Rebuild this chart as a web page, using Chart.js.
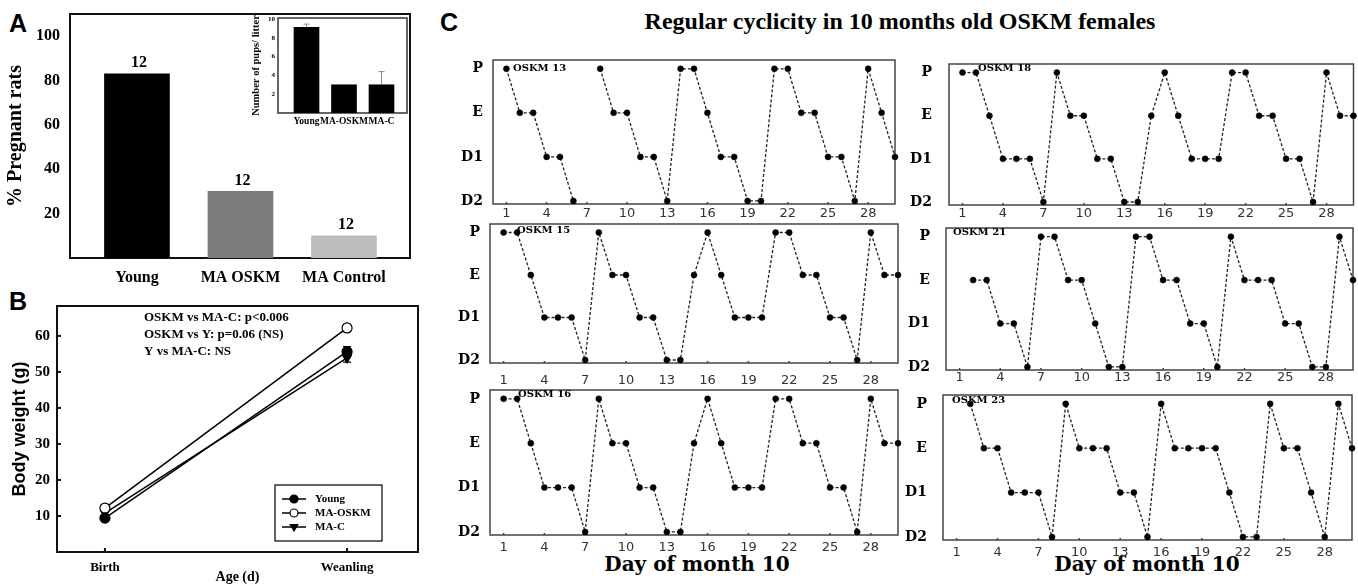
<!DOCTYPE html>
<html><head><meta charset="utf-8">
<script src="https://cdn.jsdelivr.net/npm/chart.js@4.4.1/dist/chart.umd.min.js"></script>
<style>
html,body{margin:0;padding:0;background:#fff;}
body{width:1358px;height:586px;position:relative;overflow:hidden;}
canvas.cv{position:absolute;}
.txt{position:absolute;white-space:nowrap;font-weight:bold;color:#000;line-height:1;}
.letter{font-family:'Liberation Sans',Arial,sans-serif;font-size:25px;}
.serif{font-family:'Liberation Serif','Times New Roman',serif;}
.dserif{font-family:'DejaVu Serif',serif;}
</style></head><body>
<div class="txt letter" style="left:9px;top:11px">A</div>
<div class="txt letter" style="left:9px;top:289px">B</div>
<div class="txt letter" style="left:440px;top:10px">C</div>
<div class="txt serif" style="left:900px;top:9px;font-size:24px;transform:translateX(-50%)">Regular cyclicity in 10 months old OSKM females</div>
<div class="txt dserif" style="left:697px;top:554px;font-size:20px;transform:translateX(-50%)">Day of month 10</div>
<div class="txt dserif" style="left:1147px;top:554px;font-size:20px;transform:translateX(-50%)">Day of month 10</div>
<script>
// ---------------- DATA ----------------
// Panel A
const groupsA = ['Young', 'MA OSKM', 'MA Control'];
const pregnantPct = [83, 30, 10];
const nLabelsA = ['12', '12', '12'];
const yTicksA = [20, 40, 60, 80, 100];
// Panel A inset
const insetGroups = ['Young', 'MA-OSKM', 'MA-C'];
const pupsPerLitter = [9.1, 3, 3];
const pupsErr = [0.35, 0, 1.4];
const yTicksInset = [2, 4, 6, 8, 10];
// Panel B
const ageGroups = ['Birth', 'Weanling'];
const bwYoung = [9.4, 55.6];
const bwYoungErr = [0.5, 1.4];
const bwOSKM = [12.2, 62.2];
const bwOSKMErr = [0.4, 1.0];
const bwMAC = [10.8, 53.9];
const bwMACErr = [0.4, 1.2];
const yTicksB = [10, 20, 30, 40, 50, 60];
const statsB = ['OSKM vs MA-C: p<0.006', 'OSKM vs Y: p=0.06 (NS)', 'Y vs MA-C: NS'];
// Panel C
const stages = ['D2', 'D1', 'E', 'P'];
const days = [1,2,3,4,5,6,7,8,9,10,11,12,13,14,15,16,17,18,19,20,21,22,23,24,25,26,27,28,29,30];
const dayTicks = [1, 4, 7, 10, 13, 16, 19, 22, 25, 28];
const oskm13 = ['P','E','E','D1','D1','D2',null,'P','E','E','D1','D1','D2','P','P','E','D1','D1','D2','D2','P','P','E','E','D1','D1','D2','P','E','D1'];
const oskm18 = ['P','P','E','D1','D1','D1','D2','P','E','E','D1','D1','D2','D2','E','P','E','D1','D1','D1','P','P','E','E','D1','D1','D2','P','E','E'];
const oskm15 = ['P','P','E','D1','D1','D1','D2','P','E','E','D1','D1','D2','D2','E','P','E','D1','D1','D1','P','P','E','E','D1','D1','D2','P','E','E'];
const oskm21 = [null,'E','E','D1','D1','D2','P','P','E','E','D1','D2','D2','P','P','E','E','D1','D1','D2','P','E','E','E','D1','D1','D2','D2','P','E'];
const oskm16 = ['P','P','E','D1','D1','D1','D2','P','E','E','D1','D1','D2','D2','E','P','E','D1','D1','D1','P','P','E','E','D1','D1','D2','P','E','E'];
const oskm23 = [null,'P','E','E','D1','D1','D1','D2','P','E','E','E','D1','D1','D2','P','E','E','E','E','D1','D2','D2','P','E','E','D1','D2','P','E'];

// ---------------- HELPERS ----------------
const SERIF = "'Liberation Serif','Times New Roman',serif";
const DSERIF = "'DejaVu Serif',serif";
const SANS = "'Liberation Sans',Arial,sans-serif";
const DSANS = "'DejaVu Sans',sans-serif";

function addChart(box, pad, config) {
  const w = box.r - box.l + pad.l + pad.r;
  const h = box.b - box.t + pad.t + pad.b;
  const c = document.createElement('canvas');
  c.className = 'cv';
  c.width = w; c.height = h;
  c.style.left = (box.l - pad.l) + 'px';
  c.style.top = (box.t - pad.t) + 'px';
  c.style.width = w + 'px'; c.style.height = h + 'px';
  document.body.appendChild(c);
  const o = config.options;
  o.responsive = false; o.animation = false; o.devicePixelRatio = 1;
  o.layout = {padding: {left: 0, top: pad.t, right: pad.r, bottom: 0}};
  o.scales.x.afterFit = s => { s.height = pad.b; s.paddingLeft = 0; s.paddingRight = 0; };
  o.scales.y.afterFit = s => { s.width = pad.l; s.paddingTop = 0; s.paddingBottom = 0; };
  o.plugins = Object.assign({legend: {display: false}, tooltip: {enabled: false}}, o.plugins || {});
  return new Chart(c, config);
}
function fixedTicks(arr) { return s => { s.ticks = arr.map(v => ({value: v})); }; }

const boxPlugin = {
  id: 'box',
  beforeDatasetsDraw(chart, a, o) {
    const {left, top, right, bottom} = chart.chartArea, ctx = chart.ctx;
    ctx.save();
    if (o.fill) { ctx.fillStyle = o.fill; ctx.fillRect(left, top, right - left, bottom - top); }
    ctx.strokeStyle = o.color || '#000'; ctx.lineWidth = o.width || 1.5;
    ctx.strokeRect(left, top, right - left, bottom - top);
    if (o.xticks) {
      o.xticks.forEach(v => { const x = chart.scales.x.getPixelForValue(v);
        ctx.beginPath(); ctx.moveTo(x, bottom); ctx.lineTo(x, bottom - (o.tickLen || 3)); ctx.stroke(); });
    }
    if (o.yticks) {
      o.yticks.forEach(v => { const y = chart.scales.y.getPixelForValue(v);
        ctx.beginPath(); ctx.moveTo(left, y); ctx.lineTo(left + (o.tickLen || 3), y); ctx.stroke(); });
    }
    ctx.restore();
  }
};
const errPlugin = {
  id: 'errbars',
  beforeDatasetsDraw(chart, a, o) {
    if (!o.sets) return;
    const ctx = chart.ctx, ys = chart.scales.y;
    o.sets.forEach(set => {
      const meta = chart.getDatasetMeta(set.ds);
      const data = chart.data.datasets[set.ds].data;
      meta.data.forEach((el, i) => {
        const e = set.err[i]; if (!e) return;
        const v = data[i].y;
        const top = ys.getPixelForValue(v + e), bot = ys.getPixelForValue(o.upOnly ? v : v - e);
        ctx.save(); ctx.strokeStyle = o.color || '#000'; ctx.lineWidth = o.width || 1.2;
        const cw = o.cap || 4;
        ctx.beginPath(); ctx.moveTo(el.x, top); ctx.lineTo(el.x, bot);
        ctx.moveTo(el.x - cw, top); ctx.lineTo(el.x + cw, top);
        if (!o.upOnly) { ctx.moveTo(el.x - cw, bot); ctx.lineTo(el.x + cw, bot); }
        ctx.stroke(); ctx.restore();
      });
    });
  }
};
const valueLabelPlugin = {
  id: 'vlabels',
  afterDatasetsDraw(chart, a, o) {
    const ctx = chart.ctx, meta = chart.getDatasetMeta(0);
    ctx.save(); ctx.font = o.font; ctx.fillStyle = '#000'; ctx.textAlign = 'center'; ctx.textBaseline = 'bottom';
    meta.data.forEach((el, i) => ctx.fillText(o.labels[i], el.x + 2, el.y - 3));
    ctx.restore();
  }
};
const textPlugin = {
  id: 'texts',
  afterDatasetsDraw(chart, a, o) {
    const ctx = chart.ctx, ca = chart.chartArea;
    ctx.save(); ctx.font = o.font; ctx.fillStyle = '#000'; ctx.textAlign = 'left'; ctx.textBaseline = 'middle';
    o.items.forEach(it => ctx.fillText(it.text, ca.left + it.dx, ca.top + it.dy));
    ctx.restore();
  }
};
function drawMarker(ctx, style, x, y, r, fill) {
  ctx.beginPath();
  if (style === 'tri') { ctx.moveTo(x, y + r); ctx.lineTo(x - r * 0.95, y - r * 0.6); ctx.lineTo(x + r * 0.95, y - r * 0.6); ctx.closePath(); }
  else ctx.arc(x, y, r, 0, Math.PI * 2);
  ctx.fillStyle = fill; ctx.fill(); ctx.lineWidth = 1.2; ctx.strokeStyle = '#000'; ctx.stroke();
}
const legendBoxPlugin = {
  id: 'legbox',
  afterDraw(chart, a, o) {
    const ctx = chart.ctx, ca = chart.chartArea;
    const L = ca.left + o.dx, T = ca.top + o.dy;
    ctx.save();
    ctx.fillStyle = '#fff'; ctx.fillRect(L, T, o.w, o.h);
    ctx.strokeStyle = '#000'; ctx.lineWidth = 1.2; ctx.strokeRect(L, T, o.w, o.h);
    ctx.font = o.font; ctx.textBaseline = 'middle'; ctx.textAlign = 'left';
    chart.data.datasets.forEach((ds, i) => {
      const y = T + 14 + i * 14;
      ctx.strokeStyle = '#000'; ctx.lineWidth = 1.5;
      ctx.beginPath(); ctx.moveTo(L + 7, y); ctx.lineTo(L + 31, y); ctx.stroke();
      drawMarker(ctx, ds.pointStyle === 'triangle' ? 'tri' : 'c', L + 19, y, 4, ds.pointBackgroundColor);
      ctx.fillStyle = '#000';
      ctx.fillText(ds.label, L + 40, y);
    });
    ctx.restore();
  }
};

// ---------------- PANEL A ----------------
addChart({l: 70, t: 14, r: 410, b: 258}, {l: 70, t: 14, r: 8, b: 30}, {
  type: 'bar',
  data: {datasets: [{
    data: groupsA.map((g, i) => ({x: i, y: pregnantPct[i]})),
    backgroundColor: ['#000000', '#7b7b7b', '#bcbcbc'],
    barThickness: 65
  }]},
  options: {
    scales: {
      x: {type: 'linear', offset: false, min: -0.647, max: 2.638, afterBuildTicks: fixedTicks([0, 1, 2]),
          grid: {display: false, drawTicks: false, offset: false}, border: {display: false},
          ticks: {padding: 10, color: '#000', font: {family: SERIF, size: 16, weight: 'bold'}, callback: v => groupsA[v]}},
      y: {min: 0, max: 110, afterBuildTicks: fixedTicks(yTicksA),
          grid: {display: false, drawTicks: false}, border: {display: false},
          ticks: {padding: 10, color: '#000', font: {family: SERIF, size: 16, weight: 'bold'}},
          title: {display: true, text: '% Pregnant rats', color: '#000', padding: {top: 4, bottom: 0},
                  font: {family: SERIF, size: 20, weight: 'bold'}}}
    },
    plugins: {box: {width: 2, color: '#111'}, vlabels: {labels: nLabelsA, font: "bold 16px " + SERIF}}
  },
  plugins: [boxPlugin, valueLabelPlugin]
});

// Inset
addChart({l: 278, t: 18, r: 407, b: 113}, {l: 30, t: 4, r: 4, b: 16}, {
  type: 'bar',
  data: {datasets: [{
    data: insetGroups.map((g, i) => ({x: i, y: pupsPerLitter[i]})),
    backgroundColor: '#000', barThickness: 25
  }]},
  options: {
    scales: {
      x: {type: 'linear', offset: false, min: -0.76, max: 2.68, afterBuildTicks: fixedTicks([0, 1, 2]),
          grid: {display: false, drawTicks: false, offset: false}, border: {display: false},
          ticks: {padding: 3, color: '#000', font: {family: SERIF, size: 9.5, weight: 'bold'}, callback: v => insetGroups[v]}},
      y: {min: 0, max: 10.1, afterBuildTicks: fixedTicks(yTicksInset),
          grid: {display: false, drawTicks: false}, border: {display: false},
          ticks: {padding: 3, color: '#000', font: {family: SERIF, size: 7, weight: 'bold'}},
          title: {display: true, text: 'Number of pups/ litter', color: '#000', padding: {top: 2, bottom: 0},
                  font: {family: SERIF, size: 10.5, weight: 'bold'}}}
    },
    plugins: {box: {width: 1.5, color: '#333', fill: '#fff'},
              errbars: {sets: [{ds: 0, err: pupsErr}], upOnly: true, color: '#888', width: 1, cap: 3}}
  },
  plugins: [boxPlugin, errPlugin]
});

// ---------------- PANEL B ----------------
function bSet(label, vals, fill, style) {
  return {label: label, data: ageGroups.map((g, i) => ({x: i, y: vals[i]})),
    borderColor: '#000', borderWidth: 1.5, pointRadius: 5, pointStyle: style,
    pointRotation: style === 'triangle' ? 180 : 0,
    pointBackgroundColor: fill, pointBorderColor: '#000', pointBorderWidth: 1.2, clip: false};
}
addChart({l: 57, t: 306, r: 418, b: 552}, {l: 57, t: 10, r: 8, b: 34}, {
  type: 'line',
  data: {datasets: [
    bSet('Young', bwYoung, '#000', 'circle'),
    bSet('MA-OSKM', bwOSKM, '#fff', 'circle'),
    bSet('MA-C', bwMAC, '#000', 'triangle')
  ]},
  options: {
    scales: {
      x: {type: 'linear', min: -0.198, max: 1.293, afterBuildTicks: fixedTicks([0, 1]),
          grid: {display: false, drawTicks: false}, border: {display: false},
          ticks: {padding: 8, color: '#000', font: {family: SERIF, size: 13, weight: 'bold'}, callback: v => ageGroups[v]},
          title: {display: true, text: 'Age (d)', color: '#000', padding: {top: 0, bottom: 0},
                  font: {family: SERIF, size: 14, weight: 'bold'}}},
      y: {min: 0, max: 68.3, afterBuildTicks: fixedTicks(yTicksB),
          grid: {display: false, drawTicks: false}, border: {display: false},
          ticks: {padding: 7, color: '#000', font: {family: SERIF, size: 15, weight: 'bold'}},
          title: {display: true, text: 'Body weight (g)', color: '#000', padding: {top: 9, bottom: 0},
                  font: {family: SANS, size: 18, weight: 'bold'}}}
    },
    plugins: {
      box: {width: 2, color: '#111', xticks: [0, 1], yticks: yTicksB, tickLen: 4},
      errbars: {sets: [{ds: 0, err: bwYoungErr}, {ds: 1, err: bwOSKMErr}, {ds: 2, err: bwMACErr}], color: '#000', width: 1.2, cap: 4},
      texts: {font: "bold 13px " + SERIF, items: statsB.map((t, i) => ({text: t, dx: 87, dy: 12 + i * 17}))},
      legbox: {dx: 218, dy: 179, w: 107, h: 56, font: "bold 11px " + SERIF}
    }
  },
  plugins: [boxPlugin, errPlugin, textPlugin, legendBoxPlugin]
});

// ---------------- PANEL C ----------------
const cyclePanels = [
  {name: 'OSKM 13', series: oskm13, box: {l: 493, t: 60, r: 895, b: 204}, lpad: 53, ypad: 10, xpad: 2, nx: 20, ny: 8},
  {name: 'OSKM 18', series: oskm18, box: {l: 949, t: 64, r: 1355, b: 205}, lpad: 56, ypad: 17, xpad: 1, nx: 29, ny: 4},
  {name: 'OSKM 15', series: oskm15, box: {l: 490, t: 224, r: 898, b: 363}, lpad: 52, ypad: 10, xpad: 10, nx: 27, ny: 6},
  {name: 'OSKM 21', series: oskm21, box: {l: 946, t: 228, r: 1353, b: 370}, lpad: 52, ypad: 16, xpad: 0, nx: 7, ny: 4},
  {name: 'OSKM 16', series: oskm16, box: {l: 490, t: 390, r: 898, b: 535}, lpad: 52, ypad: 10, xpad: 5, nx: 28, ny: 4},
  {name: 'OSKM 23', series: oskm23, box: {l: 943, t: 395, r: 1352, b: 540}, lpad: 52, ypad: 16, xpad: 5, nx: 9, ny: 5}
];
cyclePanels.forEach(p => {
  addChart(p.box, {l: p.lpad, t: 8, r: 1358 - p.box.r > 6 ? 6 : 1358 - p.box.r, b: 22}, {
    type: 'line',
    data: {datasets: [{
      data: days.map((d, i) => ({x: d, y: p.series[i] === null ? null : stages.indexOf(p.series[i])})),
      borderColor: '#222', borderWidth: 1.3, borderDash: [3, 2], spanGaps: false,
      pointRadius: 3, pointStyle: 'circle', pointBackgroundColor: '#000', pointBorderColor: '#000', pointBorderWidth: 0.5,
      clip: false
    }]},
    options: {
      scales: {
        x: {type: 'linear', min: 0, max: 30, afterBuildTicks: fixedTicks(dayTicks),
            grid: {display: false, drawTicks: false}, border: {display: false},
            ticks: {padding: p.xpad, color: '#333', font: {family: DSANS, size: 13}}},
        y: {min: -0.07, max: 3.2, afterBuildTicks: fixedTicks([0, 1, 2, 3]),
            grid: {display: false, drawTicks: false}, border: {display: false},
            ticks: {padding: p.ypad, color: '#000', font: {family: DSERIF, size: 14, weight: 'bold'}, callback: v => stages[v]}}
      },
      plugins: {
        box: {width: 1.5, color: '#444', xticks: dayTicks, tickLen: 2},
        texts: {font: "bold 10px " + DSERIF, items: [{text: p.name, dx: p.nx, dy: p.ny}]}
      }
    },
    plugins: [boxPlugin, textPlugin]
  });
});
</script>
</body></html>
